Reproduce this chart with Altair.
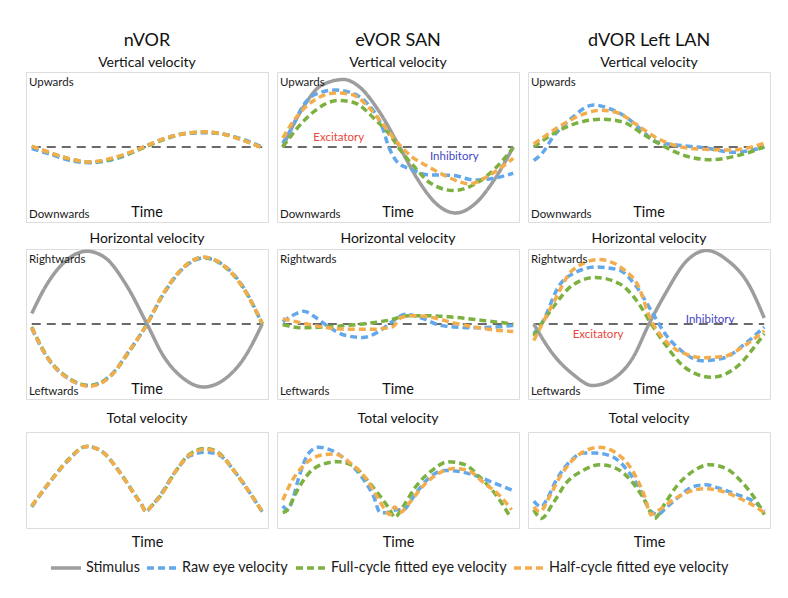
import altair as alt
import pandas as pd

FONT = "Lato"
SERIES = ["Stimulus", "Raw eye velocity", "Full-cycle fitted eye velocity", "Half-cycle fitted eye velocity"]
COLORS = ["#9d9d9d", "#62a8ea", "#7cb141", "#f3ad4c"]
DASHES = [[1, 0], [7, 4], [7, 4], [7, 4]]
XDOM = [-0.025, 1.025]
YDOM_SIGNED = [-1, 1]
YDOM_TOTAL = [0, 1]

COL_TITLES = ["nVOR", "eVOR SAN", "dVOR Left LAN"]
ROW_TITLES = ["Vertical velocity", "Horizontal velocity", "Total velocity"]
VERT_LABELS = ["Upwards", "Downwards"]
HORZ_LABELS = ["Rightwards", "Leftwards"]
SIDE_LABEL_T = [-0.012, -0.012]
SIDE_LABEL_V = [0.81, -0.95]
TIME_T = [0.5]
TIME_V = [-0.935]
ZERO_T = [0, 1]
ZERO_V = [0, 0]

# ---------------- nVOR vertical ----------------
NV_V_T = [0, .083, .167, .25, .333, .417, .5, .583, .667, .75, .833, .917, 1]
NV_V_RAW = [-.02, -.1, -.18, -.21, -.18, -.1, .02, .12, .18, .19, .17, .1, 0]
NV_V_FULL = [.01, -.08, -.16, -.2, -.17, -.09, .01, .11, .18, .2, .17, .09, -.01]
NV_V_HALF = [.01, -.08, -.16, -.2, -.16, -.08, .02, .12, .18, .2, .17, .09, -.01]

# ---------------- eVOR vertical ----------------
EV_V_STIM_T = [0, .083, .167, .264, .333, .417, .507, .583, .667, .75, .833, .917, 1]
EV_V_STIM = [0, .5, .82, .9, .8, .48, 0, -.42, -.76, -.88, -.76, -.44, 0]
EV_V_RAW_T = [0, .043, .086, .14, .23, .3, .37, .43, .46, .5, .56, .63, .74, .83, .91, 1]
EV_V_RAW = [.05, .28, .54, .7, .76, .72, .57, .28, 0, -.21, -.3, -.37, -.38, -.44, -.42, -.35]
EV_V_FULL_T = [0, .057, .13, .24, .31, .4, .47, .51, .57, .64, .74, .83, .93, 1]
EV_V_FULL = [0, .23, .46, .62, .59, .37, .14, -.04, -.26, -.48, -.58, -.5, -.26, -.01]
EV_V_HALF_T = [0, .057, .13, .23, .3, .37, .43, .5, .56, .63, .71, .81, .9, 1]
EV_V_HALF = [.12, .39, .61, .72, .7, .54, .32, .05, -.13, -.26, -.39, -.49, -.37, -.15]

# ---------------- dVOR vertical ----------------
DV_V_RAW_T = [0, .04, .083, .155, .26, .33, .4, .47, .53, .61, .74, .87, 1]
DV_V_RAW = [-.18, -.07, .13, .36, .56, .51, .4, .22, .07, .03, -.01, -.07, 0]
DV_V_FULL_T = [0, .11, .2, .3, .39, .47, .57, .66, .77, .89, 1]
DV_V_FULL = [0, .22, .33, .37, .33, .18, 0, -.12, -.17, -.11, 0]
DV_V_HALF_T = [0, .11, .2, .29, .37, .44, .54, .64, .74, .86, 1]
DV_V_HALF = [.04, .27, .42, .49, .45, .31, .11, 0, -.03, -.04, .05]

# ---------------- nVOR horizontal ----------------
NV_H_STIM_T = [0, .06, .13, .24, .32, .41, .5, .57, .66, .745, .83, .92, 1]
NV_H_STIM = [.14, .5, .79, .97, .88, .52, 0, -.42, -.73, -.84, -.75, -.46, 0]
NV_H_T = [0, .07, .16, .25, .34, .42, .5, .57, .66, .745, .83, .92, 1]
NV_H_RAW = [-.06, -.46, -.73, -.82, -.69, -.37, 0, .39, .75, .88, .79, .48, 0]
NV_H_FULL = [-.04, -.45, -.72, -.82, -.7, -.38, 0, .4, .76, .89, .78, .47, 0]
NV_H_HALF = [-.05, -.46, -.73, -.83, -.7, -.37, 0, .4, .76, .89, .79, .47, .01]

# ---------------- eVOR horizontal ----------------
EV_H_RAW_T = [0, .046, .09, .146, .2, .27, .346, .417, .474, .531, .603, .674, .746, .831, .917, 1]
EV_H_RAW = [.03, .12, .17, .08, -.04, -.15, -.18, -.1, .03, .13, .08, -.01, -.04, -.05, -.04, -.02]
EV_H_FULL_T = [0, .089, .174, .274, .374, .46, .546, .631, .746, .86, 1]
EV_H_FULL = [-.01, -.05, -.04, -.02, .01, .05, .11, .11, .09, .05, 0]
EV_H_HALF_T = [0, .089, .174, .274, .389, .474, .517, .574, .66, .746, .831, .917, 1]
EV_H_HALF = [.07, .01, -.04, -.07, -.07, -.04, .09, .11, .08, .01, -.04, -.08, -.1]

# ---------------- dVOR horizontal ----------------
DV_H_STIM_T = [0, .083, .17, .255, .34, .43, .5, .57, .66, .75, .84, .93, 1]
DV_H_STIM = [0, -.4, -.67, -.82, -.74, -.45, 0, .4, .83, .98, .85, .54, .08]
DV_H_RAW_T = [0, .033, .112, .183, .27, .37, .44, .513, .57, .642, .728, .828, .914, 1]
DV_H_RAW = [-.13, 0, .52, .69, .76, .72, .52, .16, -.13, -.36, -.49, -.45, -.27, -.04]
DV_H_FULL_T = [0, .083, .169, .269, .37, .456, .506, .57, .656, .771, .885, .971, 1]
DV_H_FULL = [-.16, .22, .52, .62, .54, .27, .02, -.27, -.58, -.71, -.56, -.25, -.13]
DV_H_HALF_T = [0, .083, .169, .284, .384, .456, .506, .57, .642, .742, .828, .914, 1]
DV_H_HALF = [-.22, .27, .72, .86, .74, .49, .07, -.22, -.38, -.45, -.43, -.29, -.09]

# ---------------- nVOR total ----------------
NV_T_T = [0, .085, .157, .237, .303, .376, .449, .475, .495, .52, .554, .627, .685, .755, .813, .886, .959, 1]
NV_T_RAW = [.22, .5, .7, .85, .8, .6, .34, .25, .17, .23, .33, .6, .75, .79, .76, .57, .32, .17]
NV_T_FULL = [.23, .5, .71, .85, .8, .6, .34, .25, .18, .23, .32, .6, .77, .83, .78, .57, .32, .17]
NV_T_HALF = [.23, .5, .7, .85, .8, .6, .34, .25, .17, .23, .32, .6, .76, .82, .77, .57, .32, .17]

# ---------------- eVOR total ----------------
EV_T_RAW_T = [0, .021, .042, .07, .113, .155, .211, .282, .352, .394, .423, .451, .493, .521, .577, .634, .704, .761, .831, .915, 1]
EV_T_RAW = [.23, .19, .29, .53, .78, .84, .81, .69, .5, .33, .16, .16, .19, .19, .36, .52, .6, .59, .55, .47, .39]
EV_T_FULL_T = [0, .021, .056, .113, .169, .239, .31, .366, .423, .465, .486, .521, .577, .648, .718, .789, .859, .93, .986]
EV_T_FULL = [.16, .19, .36, .57, .66, .69, .64, .5, .33, .19, .11, .22, .43, .6, .69, .66, .52, .33, .12]
EV_T_HALF_T = [0, .042, .099, .169, .225, .296, .366, .408, .444, .465, .486, .507, .549, .606, .676, .746, .803, .873, .944, .993]
EV_T_HALF = [.29, .5, .67, .76, .77, .67, .5, .33, .19, .14, .22, .16, .26, .43, .57, .62, .6, .47, .33, .19]

# ---------------- dVOR total ----------------
DV_T_RAW_T = [0, .033, .055, .098, .156, .214, .271, .343, .416, .466, .502, .538, .574, .632, .69, .747, .82, .892, .964, 1]
DV_T_RAW = [.28, .22, .29, .5, .69, .78, .78, .74, .57, .38, .19, .14, .21, .33, .43, .45, .4, .34, .26, .17]
DV_T_FULL_T = [0, .033, .084, .141, .214, .286, .358, .43, .488, .524, .56, .618, .69, .762, .834, .906, .964, 1]
DV_T_FULL = [.19, .1, .26, .47, .6, .66, .62, .47, .26, .1, .22, .43, .59, .66, .62, .47, .29, .14]
DV_T_HALF_T = [0, .026, .069, .113, .17, .228, .286, .358, .43, .481, .509, .545, .603, .675, .747, .82, .892, .964, 1]
DV_T_HALF = [.22, .17, .33, .53, .71, .81, .84, .78, .59, .33, .14, .19, .29, .38, .41, .38, .31, .22, .16]

LEGEND = alt.Legend(
    orient="none", legendX=23, legendY=479, direction="horizontal", columns=4,
    title=None, symbolType="stroke", symbolSize=900, symbolStrokeWidth=3.5,
    labelFontSize=14.4, labelFont=FONT, labelColor="#1a1a1a", columnPadding=0,
    labelOffset=3, labelLimit=400, padding=0,
)

TIME_AXIS = alt.Axis(
    title="Time", labels=False, ticks=False, domain=False, grid=False,
    titleFont=FONT, titleFontSize=14.5, titleFontWeight="normal", titleColor="#111",
    titlePadding=7,
)


def xenc(axis):
    return alt.X("t:Q", scale=alt.Scale(domain=XDOM, nice=False, zero=False), axis=axis)


def yenc(ydom):
    return alt.Y("v:Q", scale=alt.Scale(domain=ydom, nice=False, zero=False), axis=None)


def curve(t, v, name, ydom, axis=None):
    df = pd.DataFrame({"t": t, "v": v, "series": name})
    return alt.Chart(df).mark_line(interpolate="monotone", strokeWidth=3.5, clip=True).encode(
        x=xenc(axis),
        y=yenc(ydom),
        color=alt.Color("series:N", scale=alt.Scale(domain=SERIES, range=COLORS), legend=LEGEND),
        strokeDash=alt.StrokeDash("series:N", scale=alt.Scale(domain=SERIES, range=DASHES), legend=LEGEND),
    )


def zero_line():
    df = pd.DataFrame({"t": ZERO_T, "v": ZERO_V})
    return alt.Chart(df).mark_line(color="#6a6a6a", strokeWidth=2, strokeDash=[9, 6], clip=True).encode(
        x=xenc(None), y=yenc(YDOM_SIGNED)
    )


def texts(labels, ts, vs, align="left", baseline="alphabetic", color="#1a1a1a", size=11.5):
    df = pd.DataFrame({"t": ts, "v": vs, "label": labels})
    return alt.Chart(df).mark_text(
        align=align, baseline=baseline, font=FONT, fontSize=size, color=color
    ).encode(x=xenc(None), y=yenc(YDOM_SIGNED), text="label:N")


def signed_panel(curves, side_labels, title, extra=None):
    layers = [zero_line()]
    for t, v, name in curves:
        layers.append(curve(t, v, name, YDOM_SIGNED))
    layers.append(texts(side_labels, SIDE_LABEL_T, SIDE_LABEL_V))
    layers.append(texts(["Time"], TIME_T, TIME_V, align="center", size=14.5, color="#111"))
    if extra:
        layers.extend(extra)
    return alt.layer(*layers).properties(width=242, height=150, title=title)


def total_panel(curves, title):
    layers = [curve(t, v, name, YDOM_TOTAL, TIME_AXIS) for t, v, name in curves]
    return alt.layer(*layers).properties(width=242, height=96, title=title)


def top_title(col):
    return alt.TitleParams(
        text=col, subtitle=ROW_TITLES[0], font=FONT, fontSize=18, fontWeight="normal",
        color="#111", subtitleFont=FONT, subtitleFontSize=14, subtitleColor="#111",
        subtitlePadding=6, offset=2, anchor="middle", frame="group",
    )


def row_title(text, offset):
    return alt.TitleParams(text=text, font=FONT, fontSize=14, fontWeight="normal",
                           color="#111", offset=offset, anchor="middle", frame="group")


R, F, H, S = SERIES[1], SERIES[2], SERIES[3], SERIES[0]

p11 = signed_panel([(NV_V_T, NV_V_RAW, R), (NV_V_T, NV_V_FULL, F), (NV_V_T, NV_V_HALF, H)],
                   VERT_LABELS, top_title(COL_TITLES[0]))
p12 = signed_panel([(EV_V_STIM_T, EV_V_STIM, S), (EV_V_RAW_T, EV_V_RAW, R),
                    (EV_V_FULL_T, EV_V_FULL, F), (EV_V_HALF_T, EV_V_HALF, H)],
                   VERT_LABELS, top_title(COL_TITLES[1]),
                   extra=[texts(["Excitatory"], [0.243], [0.125], align="center", baseline="middle", color="#e8463a"),
                          texts(["Inhibitory"], [0.744], [-0.13], align="center", baseline="middle", color="#4646c4")])
p13 = signed_panel([(DV_V_RAW_T, DV_V_RAW, R), (DV_V_FULL_T, DV_V_FULL, F), (DV_V_HALF_T, DV_V_HALF, H)],
                   VERT_LABELS, top_title(COL_TITLES[2]))

p21 = signed_panel([(NV_H_STIM_T, NV_H_STIM, S), (NV_H_T, NV_H_RAW, R), (NV_H_T, NV_H_FULL, F), (NV_H_T, NV_H_HALF, H)],
                   HORZ_LABELS, row_title(ROW_TITLES[1], 3))
p22 = signed_panel([(EV_H_RAW_T, EV_H_RAW, R), (EV_H_FULL_T, EV_H_FULL, F), (EV_H_HALF_T, EV_H_HALF, H)],
                   HORZ_LABELS, row_title(ROW_TITLES[1], 3))
p23 = signed_panel([(DV_H_STIM_T, DV_H_STIM, S), (DV_H_RAW_T, DV_H_RAW, R),
                    (DV_H_FULL_T, DV_H_FULL, F), (DV_H_HALF_T, DV_H_HALF, H)],
                   HORZ_LABELS, row_title(ROW_TITLES[1], 3),
                   extra=[texts(["Excitatory"], [0.279], [-0.14], align="center", baseline="middle", color="#e8463a"),
                          texts(["Inhibitory"], [0.765], [0.06], align="center", baseline="middle", color="#4646c4")])

p31 = total_panel([(NV_T_T, NV_T_RAW, R), (NV_T_T, NV_T_FULL, F), (NV_T_T, NV_T_HALF, H)],
                  row_title(ROW_TITLES[2], 6))
p32 = total_panel([(EV_T_RAW_T, EV_T_RAW, R), (EV_T_FULL_T, EV_T_FULL, F), (EV_T_HALF_T, EV_T_HALF, H)],
                  row_title(ROW_TITLES[2], 6))
p33 = total_panel([(DV_T_RAW_T, DV_T_RAW, R), (DV_T_FULL_T, DV_T_FULL, F), (DV_T_HALF_T, DV_T_HALF, H)],
                  row_title(ROW_TITLES[2], 6))

row1 = alt.hconcat(p11, p12, p13, spacing=7)
row2 = alt.hconcat(p21, p22, p23, spacing=7)
row3 = alt.hconcat(p31, p32, p33, spacing=7)
upper = alt.vconcat(row1, row2, spacing=8)

chart = alt.vconcat(upper, row3, spacing=11).properties(
    padding={"left": 17, "top": 23, "right": 5, "bottom": 5}
).configure_view(
    stroke="#cccccc", strokeWidth=1
).configure(background="white")

chart.save("out.html", embed_options={"renderer": "svg", "actions": False})
